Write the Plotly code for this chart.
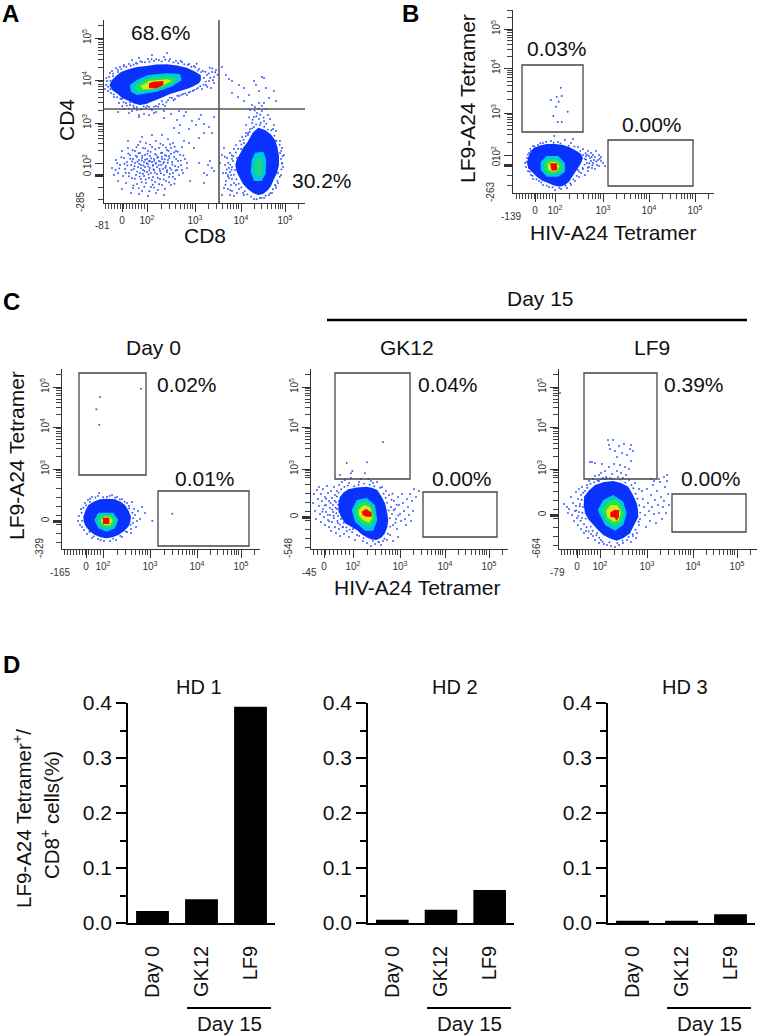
import math
import plotly.graph_objects as go

W, H = 758, 1035
FONT = "Liberation Sans, Arial, sans-serif"
BLUE, CYAN, GREEN, YELLOW, RED = "#0a32ff", "#00c8dc", "#1ee650", "#d2ec1e", "#ff0000"
DOT = "#2f50ff"

# ---- panel D values
bar_labels = ["Day 0", "GK12", "LF9"]
hd1_values = [0.022, 0.043, 0.393]
hd2_values = [0.006, 0.024, 0.060]
hd3_values = [0.004, 0.004, 0.016]

# ---- flow plots: events and density outlines in channel units
a_cd4_blue = [(5.5,118),(8,123),(12,127),(17,131),(24.3,133.7),(33,136),(42.7,137),(52,138.5),(62.7,138.7),(73,137.5),(82.7,135.3),(90,132),(96.7,128),(97,123),(95,119.7),(89,116.5),(82.7,114),(74,111),(66,109),(57,105),(49.3,102.3),(42,99),(36,98),(30,99.5),(24.3,102.3),(18,105),(13.7,109),(8,113)]
a_cd4_cyan = [(26,118),(32.7,123),(44.3,128),(62.7,129.7),(76,129),(77.7,123),(67.7,116.3),(52.7,111.3),(32.7,108),(26.7,111.3)]
a_cd4_green = [(31,117),(37.7,121.3),(46,125.3),(64.3,126.3),(72,124.7),(71,120.7),(61,116.3),(49.3,113),(34.3,111.3)]
a_cd4_yellow = [(36.7,117),(46,122.3),(62.7,123.7),(67.7,122.3),(59.3,117.7),(47.7,113.7),(38.7,113.7)]
a_cd4_red = [(45,119.7),(49.3,121.3),(59.3,122),(59.3,118),(52.7,114.7),(45,114.7)]
a_cd8_blue = [(154.3,75.3),(161,73),(166.7,68.7),(171,63),(173.3,56.3),(175,47),(175,38),(173,30),(170,24),(167,17),(163.3,12.3),(159,9),(154.3,8),(149,10),(143.7,14),(139,19),(135.3,25.7),(132.5,32),(131.3,38),(132.5,43),(135.3,48),(139,55),(143.7,61.3),(146,66),(148.7,70.3)]
a_cd8_cyan = [(151,50.3),(159.3,51.3),(162.3,43),(161.7,29.7),(157.7,22),(150,22),(146.7,31.3),(147.7,43)]
a_cd8_green = [(152.7,44.7),(157,44.7),(159.3,38),(158.3,28),(152.7,26.3),(150,33),(150.7,39.7)]
a_events = [(2,118),(3,122),(5,126),(1,114),(4,112),(6,130),(8,132),(7,110),(10,106),(9,127),(12,135),(14,131),(16,136),(20,138),(25,139),(18,104),(22,100),(26,98),(30,95),(33,93),(28,92),(38,94),(42,95),(45,96),(48,93),(52,97),(55,99),(58,102),(61,97),(64,103),(68,105),(71,104),(75,107),(79,109),(83,108),(86,111),(90,113),(94,115),(98,114),(102,118),(105,122),(100,125),(103,128),(108,131),(110,126),(112,133),(99,132),(95,134),(90,137),(85,139),(78,141),(72,142),(66,144),(60,146),(55,143),(50,142),(44,144),(38,141),(32,140),(28,143),(35,145),(63,150),(48,148),(110,120),(107,115),(15,100),(40,89),(50,90),(60,92),(35,88),(20,94),
    (14,91),(25,90),(35,86),(45,88),(52,91),(60,85),(67,89),(80,87),(88,82),(95,84),(100,79),(105,76),(110,86),(92,78),(76,78),(70,75),(85,74),(75,92),(108,70),(82,91),(97,88),(73,83),
    (118,136),(122,128),(125,124),(128,122),(135,118),(140,115),(145,108),(150,122),(152,118),(155,112),(158,126),(160,125),(162,115),(165,105),(170,112),(172,102),(140,102),(148,98),(155,100),(128,110),(134,106),(160,100),(151,96),(146,93),(153,90),(158,92),(162,94),(164,88),(166,84),(150,86),(155,84),(160,82),(148,80),(170,78),(172,72),(142,78),(146,74),(150,76),(156,78),(176,62),(178,55),(180,48),(177,44),(179,36),(177,28),(174,20),(172,15),(168,10),(160,5),(150,4),(140,8),(135,14),(130,20),(127,28),(125,35),(128,44),(126,50),(130,54),(132,58),(136,62),(138,66),(142,70),
    (118,8),(120,15),(122,22),(119,30),(121,38),(123,45),(124,14),(126,8),(128,12),(118,48),(120,55),(116,40),(125,25),(128,36),(122,30),(127,18),(130,7),(133,10),(129,42),(126,31),(124,28),(139,10),(132,18),(128,24),(131,33),(133,45),(137,54),(156,5),(165,8),(171,18),(174,30),(178,40),(176,50),(172,62),(169,74),(144,68),(140,60),
    (100,30),(104,38),(95,40),(100,20),(108,35),(103,28),(110,32),(85,60),(90,55),(95,65),(100,70),(80,62),(75,70),(106,42),(83,40),(78,33),(86,22),
    (8,35),(12,43),(14,30),(16,38),(18,52),(19,27),(20,45),(21,34),(22,20),(23,41),(24,55),(25,30),(26,48),(27,38),(28,25),(29,44),(29,15),(30,34),(31,52),(31,40),(32,28),(33,46),(33,19),(34,36),(34,58),(35,43),(36,30),(36,50),(37,24),(37,38),(38,45),(38,12),(39,33),(39,55),(40,41),(40,27),(41,48),(41,36),(42,20),(42,60),(43,44),(43,31),(44,39),(44,52),(45,25),(45,42),(46,35),(46,47),(47,16),(47,30),(48,56),(48,41),(49,38),(49,26),(50,44),(50,33),(51,49),(51,21),(52,40),(52,62),(53,36),(53,29),(54,46),(54,13),(55,42),(55,55),(56,32),(56,24),(57,50),(57,38),(58,44),(58,18),(59,34),(59,58),(60,41),(60,28),(61,48),(62,22),(62,37),(63,53),(63,31),(64,43),(64,64),(65,26),(65,47),(66,35),(67,55),(67,18),(68,41),(69,30),(69,60),(70,46),(71,24),(71,37),(72,52),(73,33),(74,42),(75,28),(76,48),(77,38),(78,56),(79,30),(81,44),(83,35),(18,14),(27,10),(35,9),(44,7),(52,10),(60,8),(24,62),(38,66),(48,68),(58,68),(14,22),(10,28),
    (33.5,41.2),(35.2,39.1),(37.8,42.6),(39.4,37.5),(41.1,43.3),(42.7,39.8),(44.2,36.4),(45.9,41.7),(47.3,44.6),(48.8,37.2),(50.2,42.1),(51.7,39.3),(53.4,45.2),(54.8,37.9),(56.3,41.4),(57.9,46.3),(59.1,39.6),(60.7,43.8),(62.2,47.1),(63.8,40.2),(65.3,44.9),(66.9,49.3),(68.4,38.5),(70.2,50.6),(72.1,44.1),(30.4,36.8),(28.1,41.5),(26.3,44.2),(31.9,47.3),(34.6,49.8),(36.9,34.7),(38.3,47.2),(40.6,31.9),(43.5,49.3),(45.2,32.8),(46.7,51.1),(49.5,33.6),(52.4,47.9),(55.6,34.1),(58.2,50.3),(61.4,35.2),(64.5,52.1),(67.3,33.4),(23.4,37.6),(21.8,30.2),(24.9,26.8),(27.6,33.1),(30.8,24.3),(33.2,31.4),(35.7,26.4),(38.9,29.2),(41.8,23.5),(44.6,28.6),(47.9,22.7),(50.9,30.4),(53.8,25.3),(56.9,29.7),(59.7,23.6),(62.9,32.8),(65.8,29.1),(68.9,26.3),(71.7,32.5),(74.3,36.1),(76.8,42.4),(79.3,47.6),(73.8,51.2),(70.6,56.3),(66.2,58.7),(61.8,55.4),(56.4,59.2),(51.3,53.7),(46.1,58.4),(41.2,54.6),(36.2,61.3),(32.4,55.9),(28.7,52.8),(24.3,49.6),(20.6,39.2),(17.4,45.8),(15.3,34.6),(13.2,39.7),(11.6,33.3),(29.3,17.6),(34.8,14.9),(40.3,16.2),(45.4,11.8),(50.1,15.4),(55.2,18.7),(60.9,14.2),(65.1,20.6),(70.4,19.3),(48.7,18.3),(37.6,20.9),
    (6.4,122.3),(9.2,129.4),(11.5,124.8),(13.7,133.2),(17.3,133.9),(19.8,136.6),(22.4,136.1),(26.8,137.3),(29.7,138.5),(33.1,139.2),(36.4,141.8),(40.9,140.7),(45.3,141.3),(47.6,143.7),(52.1,143.8),(57.8,141.6),(61.3,143.2),(64.9,142.1),(69.4,140.6),(74.2,139.8),(76.7,142.3),(80.3,138.7),(83.9,138.1),(87.4,136.3),(91.2,135.8),(93.6,132.4),(97.1,130.9),(101.4,131.2),(104.7,129.6),(106.3,125.3),(108.9,122.7),(101.7,121.4),(103.2,116.3),(99.6,118.2),(96.2,116.7),(92.4,113.9),(88.7,112.2),(84.8,110.6),(81.1,109.6),(77.3,108.1),(73.4,107.3),(69.6,102.8),(65.7,105.4),(62.4,100.7),(58.9,98.6),(54.3,96.3),(50.1,96.4),(46.7,94.1),(43.2,97.1),(39.8,96.6),(36.3,93.4),(32.7,95.7),(29.4,97.2),(26.1,100.6),(22.8,97.4),(19.6,100.7),(16.4,104.3),(13.1,105.8),(9.7,108.6),(6.2,113.7),(4.1,116.2),(2.3,125.1),(108.4,134.6),(113.6,128.2),(111.2,130.7),(105.8,135.3),(92.7,139.2),(24.7,94.2),(18.3,96.8),
    (145.6,71.2),(148.3,74.6),(152.1,78.4),(156.7,80.3),(160.2,76.3),(163.8,73.4),(167.3,72.8),(170.4,67.3),(172.6,62.4),(175.7,58.2),(177.2,52.1),(178.6,46.7),(178.1,39.3),(177.4,33.6),(175.8,26.2),(173.4,22.1),(171.7,17.3),(168.9,13.8),(166.3,9.7),(161.7,7.2),(157.3,5.1),(152.6,3.8),(147.2,6.4),(143.4,8.6),(140.7,11.7),(137.3,15.6),(134.7,19.3),(132.4,23.8),(129.8,28.3),(127.6,33.2),(126.2,38.4),(129.3,46.8),(131.8,50.6),(134.2,54.3),(137.4,58.6),(139.6,63.2),(141.8,66.7),(144.1,69.8),(122.7,33.6),(123.9,26.4),(121.4,18.3),(126.4,12.7),(124.3,40.2),(120.8,46.3),(127.8,47.6),(148.6,83.2),(152.4,86.7),(156.1,88.3),(159.6,85.4),(145.2,85.6),(162.3,79.4),(150.7,92.4),(154.6,94.3),(157.8,97.2)]

b_blue = [(15.3,36.3),(17.5,41),(20.3,44.7),(27,47.5),(33.7,49),(42,49),(50.3,48),(57,45.5),(63.7,42),(68,39),(70,35),(68,29.7),(65,25),(61.7,19.7),(58,15),(56,11.3),(52,8),(47,6.3),(41,7.5),(35.3,9.7),(29,12.5),(23.7,16.3),(19,20.5),(15.3,24.7),(14,30)]
b_cyan = [(27.7,31.3),(33.7,37),(45.3,37),(52,29.7),(52,21.3),(45.3,16.3),(33.7,16.3),(27.7,23)]
b_green = [(31.3,29.7),(35.3,33.7),(44.3,33.7),(49.3,28),(49.3,23),(43.7,19),(35.3,19),(31.3,23)]
b_yellow = [(35,29),(38.7,31.3),(43.7,30.7),(46.3,26.3),(44.3,22.3),(38.7,21),(35,23.7)]
b_red = [(37,29.7),(43.7,29.7),(44.3,23),(38.7,22.3)]
b_events = [(47.7,105.3),(48.7,97),(38,93),(43.7,96.3),(45.7,91.3),(43,86.3),(54.7,81.3),(40.3,77),(44.7,71),(48.7,71),(41.3,57),
    (12,30),(14,35),(13,26),(16,40),(18,42),(15,22),(20,47),(25,48),(30,50),(38,52),(45,51),(52,53),(58,50),(65,46),(70,44),(75,42),(78,40),(80,38),(82,36),(85,33),(88,32),(90,30),(84,28),(80,30),(76,26),(78,32),(72,34),(74,38),(70,24),(68,20),(66,16),(62,12),(58,8),(54,5),(48,4),(42,3),(36,6),(30,8),(26,12),(20,14),(18,18),(86,38),(83,42),(88,36),(79,25),(75,22),(82,24),(72,18),(60,54),(77,35),(81,33),(74,30),(70,38),(86,27),(65,23),(92,27),
    (13.6,31.2),(14.8,38.4),(17.3,44.1),(21.6,46.3),(27.4,49.8),(33.2,51.2),(40.6,50.3),(47.4,49.6),(55.7,47.2),(61.4,46.6),(67.3,42.1),(72.6,39.7),(75.8,37.3),(73.2,33.4),(71.6,28.4),(69.7,25.1),(66.2,21.4),(63.7,17.1),(60.3,13.6),(57.4,9.8),(52.7,7.3),(46.2,4.9),(39.6,5.8),(33.7,7.4),(28.2,10.6),(23.4,13.7),(19.6,17.2),(16.8,21.3),(78.6,36.1),(79.4,27.8),(76.4,29.7),(83.2,31.6),(74.7,25.2),(72.8,36.6),(86.8,34.2)]

c1_blue = [(21.3,32.3),(23.5,38.5),(26.3,44),(32,47.5),(38,49.7),(45.5,50.3),(53,49.7),(58.5,47.3),(63,44),(66.5,38.5),(69,32.3),(68.3,27),(66.3,22.3),(61.5,17.5),(56.3,14),(50.5,11.7),(44.7,10.7),(38.5,11.7),(33,14),(28,17.5),(24,22.3),(21.8,27)]
c1_cyan = [(32.3,29),(36.3,36.3),(51.3,36.3),(56.3,29),(53,20.7),(44.7,17.3),(36.3,20.7)]
c1_green = [(35.3,28.3),(39.7,34),(49.7,34),(53.7,28.3),(49.7,21.7),(39.7,21.7)]
c1_yellow = [(38.7,28.3),(42,32.3),(48,32.3),(50.7,28.3),(48,23.7),(42,23.7)]
c1_red = [(41,31.3),(47.3,31.3),(47.3,25),(41,25)]
c1_events = [(79,160.3),(38,152),(34.3,139.7),(37.3,124.3),(110.3,35.3),(90.3,28.3),
    (17,33),(19,40),(16,28),(20,22),(23,46),(26,49),(30,52),(36,53),(37,56),(45,52),(50,54),(55,52),(60,50),(65,46),(70,47),(72,40),(73,34),(75,28),(71,26),(69,20),(65,17),(60,12),(54,9),(48,8),(42,8),(36,10),(30,11),(25,15),(22,19),(78,30),(80,42),(76,38),(74,22),(69,16),(18,24),(83,36),(67,43),(28,47),
    (19.6,36.2),(21.4,41.3),(24.2,43.7),(28.1,50.2),(33.4,51.6),(41.2,51.7),(47.6,53.1),(53.3,51.2),(57.8,49.6),(62.6,47.3),(67.2,40.6),(70.4,36.2),(71.2,30.8),(68.4,24.2),(63.7,17.6),(58.3,13.1),(51.2,10.4),(38.6,9.1),(31.7,12.6),(27.4,17.2),(23.6,24.7),(20.1,28.3)]

c2_blue = [(29,52.3),(32.5,56.5),(37.3,59.7),(46,61.5),(55.7,62.3),(61.5,61),(66.3,59),(70.5,52.5),(74,45.7),(76,37.5),(77.3,29),(76.3,22),(74,15.7),(70.5,11.5),(65.7,9),(61,9.5),(57.3,10.7),(51,14.5),(45.7,19),(39.5,22.5),(34,25.7),(30,32),(27.3,39),(27.5,46)]
c2_cyan = [(40.7,39),(45.7,49),(55.7,51),(64,44),(66.3,29),(62.3,18.3),(54,18.3),(44,27.3)]
c2_green = [(44,39),(48,45.7),(56.3,47.3),(62.3,40.7),(64,29),(59,23),(53,24),(45.7,30.7)]
c2_yellow = [(47.3,39),(53,44),(59,41.7),(61.7,32.3),(58.3,26.3),(53,28.3),(48,33)]
c2_red = [(50.7,37.3),(55,40.3),(60.7,36.3),(60.7,32.3),(55,32.3),(51.7,34)]
c2_events = [(72,107),(56,86.7),(35.7,86),(41.3,78),(40,75.7),(29,74),(54,75.7),(57.3,70),(48,67),(38,66),(62,66),
    (3,55),(2,46),(4,38),(6,59),(5,30),(7,50),(8,43),(8,62),(9,35),(10,55),(10,27),(11,48),(12,40),(12,60),(13,32),(14,52),(14,24),(15,44),(15,37),(16,63),(17,56),(17,29),(18,48),(18,22),(19,41),(19,34),(20,58),(20,18),(21,51),(21,27),(22,44),(22,37),(23,62),(23,31),(24,54),(24,22),(25,47),(25,16),(26,40),(26,58),(27,33),(27,26),(28,64),(28,20),(28,48),(29,13),(30,30),(31,67),(32,22),(33,15),(34,69),(36,18),(38,12),(40,71),(42,20),(44,9),(46,14),(50,70),(52,8),(56,6),(60,3),(64,5),(68,7),(72,8),(60,68),(66,67),(71,62),(75,58),
    (78,54),(80,42),(81,35),(82,24),(79,14),(76,9),(83,48),(84,40),(85,30),(86,20),(87,52),(88,44),(89,35),(90,28),(91,55),(92,46),(93,38),(94,30),(95,24),(96,50),(97,42),(98,34),(99,55),(101,48),(102,38),(103,60),(105,52),(108,58),(100,28),(87,12),(82,8),(70,4),
    (11.4,37.2),(13.7,43.6),(15.2,50.3),(16.8,34.1),(18.3,27.6),(19.7,46.1),(21.3,39.4),(22.6,33.2),(23.7,48.3),(24.6,41.2),(25.3,35.7),(25.8,52.6),(26.4,28.1),(27.2,44.3),(27.6,56.4),(28.3,37.1),(29.1,24.4),(30.2,59.7),(31.6,21.7),(32.7,26.2),(33.4,62.1),(35.4,21.6),(36.7,63.4),(38.9,19.4),(41.2,16.7),(43.3,62.8),(47.6,64.2),(48.2,13.1),(52.6,10.9),(53.1,65.4),(58.6,64.3),(61.8,8.1),(63.2,62.7),(67.4,6.9),(69.3,61.3),(72.6,55.4),(74.7,51.2),(76.1,46.3),(77.7,38.6),(78.9,30.7),(79.2,22.4),(76.8,15.3),(73.4,10.2),(80.6,49.3),(82.7,38.7),(84.4,26.3),(81.4,55.2),(85.7,44.3),(87.3,33.6)]

c3_blue = [(25,52.3),(30,58.5),(36,64),(45,67),(54.3,68),(62,66),(69.3,62.3),(74,54),(77.7,45.7),(79,39),(79.3,32.3),(75.5,24),(71,15.7),(64.5,11),(57.7,8.3),(51,10.5),(44.3,14),(39,19),(34.3,24),(29.5,29.5),(26,35.7),(24.8,44)]
c3_cyan = [(38.7,39),(44.3,49),(54.3,54),(64.3,47.3),(67.7,35.7),(64.3,24),(56,18.3),(46,24)]
c3_green = [(42.7,39),(48.3,47.3),(56,49.7),(62.7,44),(65,34),(61,25.7),(54.3,23),(47,29)]
c3_yellow = [(47,38.3),(51.7,44),(58.3,44),(62,36.3),(59.3,28.3),(54.3,27.3),(48.3,31.7)]
c3_red = [(51,36.3),(55.3,39),(60,39),(60,32.3),(57.7,28.3),(55.3,31.7),(51.7,31.7)]
c3_events = [(1,156),(49,109),(54,109),(50,104),(60,103),(65,105),(72,104),(71,100),(56,98),(51,100),(58,92),(63,96),(68,94),(74,98),(72,88),(36,86),(33,87),(43,85),(50,82),(55,85),(61,84),(66,82),(70,80),(42,76),(40,74),(36,73),(46,78),(53,75),(58,78),(62,76),(67,74),(47,72),(51,71),(59,72),(64,71),(44,71),(31,87),
    (5,45),(8,42),(9,36),(10,40),(12,52),(13,34),(14,46),(15,28),(16,38),(17,57),(17,43),(18,31),(19,50),(19,24),(20,60),(20,37),(21,45),(22,20),(22,54),(23,31),(23,62),(24,42),(25,16),(25,25),(26,58),(27,18),(28,64),(29,11),(30,68),(32,15),(34,13),(36,9),(38,16),(40,6),(42,9),(45,5),(48,4),(52,3),(56,2),(60,4),(64,6),(68,9),(72,7),(74,13),(77,11),(40,68),(34,70),(46,70),(70,69),(76,66),(80,60),(78,16),(80,24),(81,30),
    (83,58),(84,50),(85,42),(86,34),(87,22),(88,60),(89,46),(90,38),(91,28),(92,54),(93,42),(94,64),(95,35),(96,49),(97,26),(98,58),(99,44),(100,36),(101,67),(102,52),(103,30),(104,42),(105,48),(106,62),(107,36),(108,68),(109,55),(110,44),(105,72),(108,74),(100,70),(95,68),(92,70),
    (17.2,38.6),(19.4,33.1),(20.8,42.7),(21.6,28.3),(22.7,49.2),(23.4,36.2),(24.1,56.3),(25.7,44.6),(26.8,30.4),(27.6,21.7),(28.3,61.2),(29.7,17.6),(31.4,65.3),(31.8,22.4),(33.6,18.3),(35.2,66.7),(37.4,13.7),(38.6,68.4),(40.3,11.2),(42.6,69.7),(43.7,7.3),(47.8,70.6),(50.4,6.7),(53.3,70.1),(58.2,5.9),(61.7,69.4),(63.6,8.4),(66.3,66.4),(69.7,12.1),(72.4,64.1),(74.3,60.7),(76.6,55.3),(78.4,50.2),(80.2,43.7),(81.2,36.4),(79.7,27.3),(76.4,19.2),(73.6,14.7)]

# gates, channel units: x0, x1, y0, y1
b_gates = [(9, 70, 61, 128), (95, 180, 7, 53)]
c1_gates = [(17, 84, 74, 176), (96, 187, 3, 58)]
c2_gates = [(24, 99, 70, 176), (112, 186, 12, 57)]
c3_gates = [(25, 98, 70, 176), (113, 187, 17, 55)]

# decade tick positions in channel units: 0, 10^2, 10^3, 10^4, 10^5
a_xdec = [18, 43, 91, 137, 181]
a_ydec = [28, 40, 80, 123, 165]
b_xdec = [22, 42, 90, 136, 182]
b_ydec = [28, 38, 80, 125, 164]
c1_xdec = [24, 41, 88, 135, 179]
c1_ydec = [28, None, 80, 122, 162]
c2_xdec = [13, 42, 89, 134, 178]
c2_ydec = [32, None, 80, 122, 162]
c3_xdec = [18, 41, 88, 134, 178]
c3_ydec = [34, None, 80, 122, 162]


def px(x):
    return x / W


def py(y):
    return 1 - y / H


def unzip(points):
    return [p[0] for p in points], [p[1] for p in points]


def minor_ticks(dec, end, low_step):
    zero, d2, d3, d4, d5 = dec
    vals = []
    w = d5 - d4
    lows = [(d3 - w, d3), (d3, d4), (d4, d5), (d5, d5 + w)]
    if d2 is not None:
        lows[0] = (d2, d3)
    for a, b in lows:
        for m in range(2, 10):
            v = a + (b - a) * math.log10(m)
            if 0 < v < end and (d2 is not None or v > d3 - 12):
                vals.append(v)
    top = d2 if d2 is not None else zero + 42
    v = top - low_step
    while v > 0:
        vals.append(v)
        v -= low_step
    return vals


def major_ticks(dec, heavy):
    labels = {0: "0", 1: "10<sup>2</sup>", 2: "10<sup>3</sup>", 3: "10<sup>4</sup>", 4: "10<sup>5</sup>"}
    vals, text = [], []
    for i, d in enumerate(dec):
        if d is None:
            continue
        vals.append(d)
        text.append(labels[i])
    if heavy:
        vals += [dec[0] - 1, dec[0] + 1]
        text += ["", ""]
    return vals, text


fig = go.Figure()
layout = {}
shapes = []
notes = []


def text(s, x, y, size=21, angle=0, color="#111", weight=None):
    notes.append(dict(text=s, x=px(x), y=py(y), xref="paper", yref="paper", showarrow=False,
                      xanchor="center", yanchor="middle", textangle=angle,
                      font=dict(size=size, color=color, family=FONT, weight=weight)))


def rule(x0, x1, y0, y1, width, color="black"):
    shapes.append(dict(type="line", xref="paper", yref="paper", x0=px(x0), x1=px(x1), y0=py(y0), y1=py(y1),
                       line=dict(color=color, width=width)))


def flow_plot(n, box, xdec, ydec, low_x, low_y, events, levels, gates, low_labels):
    left, right, top, bottom = box
    suffix = "" if n == 1 else str(n)
    xv, xt = major_ticks(xdec, False)
    yv, yt = major_ticks(ydec, True)
    tick_font = dict(size=10, color="#333", family=FONT)
    layout["xaxis" + suffix] = dict(domain=[px(left), px(right)], range=[0, right - left], anchor="y" + suffix,
                                    automargin=False, showgrid=False, zeroline=False, showline=True, linecolor="#333", linewidth=1.2,
                                    tickmode="array", tickvals=xv, ticktext=xt, ticks="outside", ticklen=8,
                                    tickwidth=1, tickcolor="#333", tickfont=tick_font, tickangle=0,
                                    minor=dict(tickmode="array", tickvals=minor_ticks(xdec, right - left, low_x),
                                               ticks="outside", ticklen=5, tickwidth=1, tickcolor="#444"))
    layout["yaxis" + suffix] = dict(domain=[py(bottom), py(top)], range=[0, bottom - top], anchor="x" + suffix,
                                    automargin=False, showgrid=False, zeroline=False, showline=True, linecolor="#333", linewidth=1.2,
                                    tickmode="array", tickvals=yv, ticktext=yt, ticks="outside", ticklen=8,
                                    tickwidth=1, tickcolor="#333", tickfont=tick_font, tickangle=-90,
                                    minor=dict(tickmode="array", tickvals=minor_ticks(ydec, bottom - top, low_y),
                                               ticks="outside", ticklen=5, tickwidth=1, tickcolor="#444"))
    ex, ey = unzip(events)
    fig.add_trace(go.Scatter(x=ex, y=ey, mode="markers", xaxis="x" + suffix, yaxis="y" + suffix,
                             marker=dict(size=1.9, color=DOT, line=dict(width=0)), showlegend=False))
    for pts, color in levels:
        lx, ly = unzip(pts)
        fig.add_trace(go.Scatter(x=lx + lx[:1], y=ly + ly[:1], mode="lines", fill="toself", fillcolor=color,
                                 line=dict(width=0, color=color),
                                 xaxis="x" + suffix, yaxis="y" + suffix, showlegend=False, hoverinfo="skip"))
    for x0, x1, y0, y1 in gates:
        shapes.append(dict(type="rect", xref="x" + suffix, yref="y" + suffix, x0=x0, x1=x1, y0=y0, y1=y1,
                           line=dict(color="#444", width=1.3)))
    text(low_labels[0], left - 2, bottom + 23, 10, color="#333")
    text(low_labels[1], left - 23, bottom - 1, 10, angle=-90, color="#333")


flow_plot(1, (104, 305, 20, 203), a_xdec, a_ydec, 3, 12, a_events,
          [(a_cd4_blue, BLUE), (a_cd4_cyan, CYAN), (a_cd4_green, GREEN), (a_cd4_yellow, YELLOW), (a_cd4_red, RED),
           (a_cd8_blue, BLUE), (a_cd8_cyan, CYAN), (a_cd8_green, "#18d890")], [], ("-81", "-285"))
flow_plot(2, (513, 714, 10, 193), b_xdec, b_ydec, 3, 10, b_events,
          [(b_blue, BLUE), (b_cyan, CYAN), (b_green, GREEN), (b_yellow, YELLOW), (b_red, RED)], b_gates, ("-139", "-263"))
flow_plot(3, (62, 260, 369, 549), c1_xdec, c1_ydec, 3, 9, c1_events,
          [(c1_blue, BLUE), (c1_cyan, CYAN), (c1_green, GREEN), (c1_yellow, YELLOW), (c1_red, RED)], c1_gates, ("-165", "-329"))
flow_plot(4, (311, 508, 369, 549), c2_xdec, c2_ydec, 4, 9, c2_events,
          [(c2_blue, BLUE), (c2_cyan, CYAN), (c2_green, GREEN), (c2_yellow, YELLOW), (c2_red, RED)], c2_gates, ("-45", "-548"))
flow_plot(5, (559, 757, 369, 549), c3_xdec, c3_ydec, 3, 9, c3_events,
          [(c3_blue, BLUE), (c3_cyan, CYAN), (c3_green, GREEN), (c3_yellow, YELLOW), (c3_red, RED)], c3_gates, ("-79", "-664"))

# quadrant lines of panel A
shapes.append(dict(type="line", xref="x", yref="paper", x0=115, x1=115, y0=py(203), y1=py(20), line=dict(color="#555", width=1.6)))
shapes.append(dict(type="line", xref="paper", yref="y", x0=px(104), x1=px(305), y0=94, y1=94, line=dict(color="#555", width=1.6)))


def bar_plot(n, left, right, values):
    xname, yname = "xaxis" + str(n), "yaxis" + str(n)
    layout[xname] = dict(domain=[px(left), px(right)], range=[-0.5, 2.5], anchor="y" + str(n), type="category",
                         automargin=False, categoryorder="array", categoryarray=bar_labels, showgrid=False, zeroline=False,
                         showline=True, linecolor="black", linewidth=1.6, ticks="", tickangle=-90, ticklabelstandoff=13,
                         tickfont=dict(size=20, color="#111", family=FONT))
    layout[yname] = dict(domain=[py(923), py(703)], range=[0, 0.4], anchor="x" + str(n), showgrid=False, zeroline=False,
                         automargin=False, showline=True, linecolor="black", linewidth=1.6, tickmode="array",
                         tickvals=[0, 0.1, 0.2, 0.3, 0.4], ticktext=["0.0", "0.1", "0.2", "0.3", "0.4"],
                         ticks="outside", ticklen=10, tickwidth=1.6, tickcolor="black",
                         tickfont=dict(size=21, color="#111", family=FONT),
                         minor=dict(tickmode="array", tickvals=[0.05, 0.15, 0.25, 0.35], ticks="outside",
                                    ticklen=6, tickwidth=1.6, tickcolor="black"))
    fig.add_trace(go.Bar(x=bar_labels, y=values, width=0.67, marker=dict(color="black", line=dict(width=0)),
                         xaxis="x" + str(n), yaxis="y" + str(n), showlegend=False))


bar_plot(6, 128, 275, hd1_values)
bar_plot(7, 368, 514, hd2_values)
bar_plot(8, 608, 755, hd3_values)

# panel letters
text("A", 10, 14, 24, weight="bold", color="black")
text("B", 410, 14, 24, weight="bold", color="black")
text("C", 11, 301, 24, weight="bold", color="black")
text("D", 11, 664, 24, weight="bold", color="black")

# panel A / B
text("68.6%", 161, 33)
text("30.2%", 322, 180)
text("CD4", 67, 120, angle=-90)
text("CD8", 205, 235)
text("0.03%", 557, 48)
text("0.00%", 652, 124)
text("HIV-A24 Tetramer", 613, 233)
text("LF9-A24 Tetramer", 467, 99, angle=-90)

# panel C
text("Day 15", 540, 298)
rule(327, 747, 320, 320, 2.5)
text("Day 0", 153, 347)
text("GK12", 407, 347)
text("LF9", 652, 347)
text("0.02%", 187, 384)
text("0.01%", 205, 478)
text("0.04%", 448, 384)
text("0.00%", 462, 478)
text("0.39%", 694, 384)
text("0.00%", 711, 478)
text("LF9-A24 Tetramer", 16, 456, angle=-90)
text("HIV-A24 Tetramer", 417, 587)

# panel D
text("HD 1", 199, 687, 20)
text("HD 2", 455, 687, 20)
text("HD 3", 685, 687, 20)
text("LF9-A24 Tetramer<sup>+</sup>/", 22, 819, 20.5, angle=-90)
text("CD8<sup>+</sup> cells(%)", 50, 815, 20.5, angle=-90)
for x0, x1, xc in [(187, 271, 229), (427, 511, 469), (667, 751, 709)]:
    rule(x0, x1, 1008, 1008, 2)
    text("Day 15", xc, 1023, 20.5)

fig.update_layout(width=W, height=H, margin=dict(l=0, r=0, t=0, b=0), paper_bgcolor="white", plot_bgcolor="white",
                  showlegend=False, shapes=shapes, annotations=notes, bargap=0.33, **layout)
# the page's default body margin would push the figure 8px right and down
fig.write_html("out.html", config={"displayModeBar": False},
               post_script="document.body.style.margin='0';document.body.style.overflow='hidden';")
